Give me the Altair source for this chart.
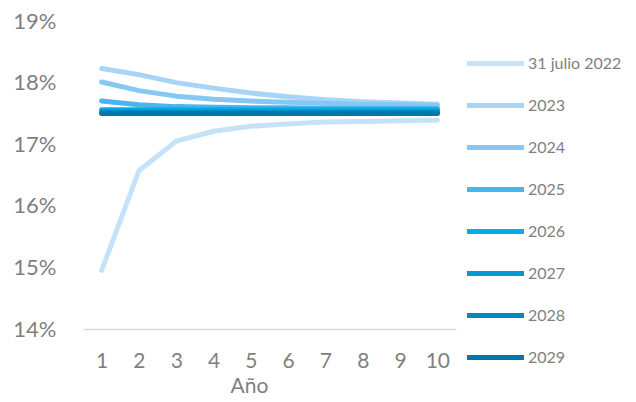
import altair as alt
import pandas as pd

years = [1, 2, 3, 4, 5, 6, 7, 8, 9, 10]
series_names = ["31 julio 2022", "2023", "2024", "2025", "2026", "2027", "2028", "2029"]
colors = ["#c6e2f8", "#a8d5f7", "#86c7f4", "#48b5ee", "#00aee8", "#0099d6", "#0088c2", "#0077a8"]

s2022 = [14.95, 16.57, 17.05, 17.21, 17.29, 17.33, 17.36, 17.37, 17.38, 17.39]
s2023 = [18.23, 18.13, 18.00, 17.91, 17.83, 17.77, 17.72, 17.69, 17.67, 17.65]
s2024 = [18.01, 17.87, 17.78, 17.73, 17.70, 17.68, 17.66, 17.65, 17.64, 17.63]
s2025 = [17.70, 17.64, 17.61, 17.60, 17.59, 17.59, 17.58, 17.58, 17.58, 17.58]
s2026 = [17.56, 17.56, 17.56, 17.56, 17.56, 17.56, 17.56, 17.56, 17.56, 17.56]
s2027 = [17.53, 17.53, 17.53, 17.53, 17.53, 17.53, 17.53, 17.53, 17.53, 17.53]
s2028 = [17.51, 17.51, 17.51, 17.51, 17.51, 17.51, 17.51, 17.51, 17.51, 17.51]
s2029 = [17.50, 17.50, 17.50, 17.50, 17.50, 17.50, 17.50, 17.50, 17.50, 17.50]

all_series = [s2022, s2023, s2024, s2025, s2026, s2027, s2028, s2029]
rows = []
for i, (name, vals) in enumerate(zip(series_names, all_series)):
    for y, v in zip(years, vals):
        rows.append({"Año": y, "valor": v, "serie": name, "orden": i})
df = pd.DataFrame(rows)

FONT = "Lato"
GRAY = "#7f7f7f"

chart = alt.Chart(df).mark_line(strokeWidth=5, strokeCap="round", strokeJoin="round").encode(
    x=alt.X("Año:O", axis=alt.Axis(labelAngle=0, ticks=False, domainColor="#d9d9d9", domainWidth=1.5,
                                    labelFontSize=21, labelColor=GRAY, labelFont=FONT, labelPadding=21,
                                    titleFontSize=21, titleColor=GRAY, titleFont=FONT, titleFontWeight="normal",
                                    titlePadding=4, titleX=166)),
    y=alt.Y("valor:Q", scale=alt.Scale(domain=[14, 19], nice=False, zero=False),
            axis=alt.Axis(values=[14, 15, 16, 17, 18, 19], labelExpr="datum.value + '%'", grid=False,
                          domain=False, ticks=False, labelFontSize=22, labelColor=GRAY, labelFont=FONT,
                          labelPadding=27, title=None)),
    color=alt.Color("serie:N", scale=alt.Scale(domain=series_names, range=colors),
                    legend=alt.Legend(title=None, orient="none", legendX=381, legendY=11,
                                      symbolType="stroke", symbolStrokeWidth=5, symbolSize=3250,
                                      labelFontSize=16, labelColor=GRAY, labelFont=FONT,
                                      rowPadding=0, labelOffset=1, symbolOffset=0)),
    order=alt.Order("orden:Q"),
).properties(width=373, height=308).configure(
    padding={"left": 4, "top": 2, "right": 0, "bottom": 1}
).configure_view(strokeWidth=0, stroke="transparent")

chart.save("out.html", embed_options={"renderer": "svg", "actions": False})
